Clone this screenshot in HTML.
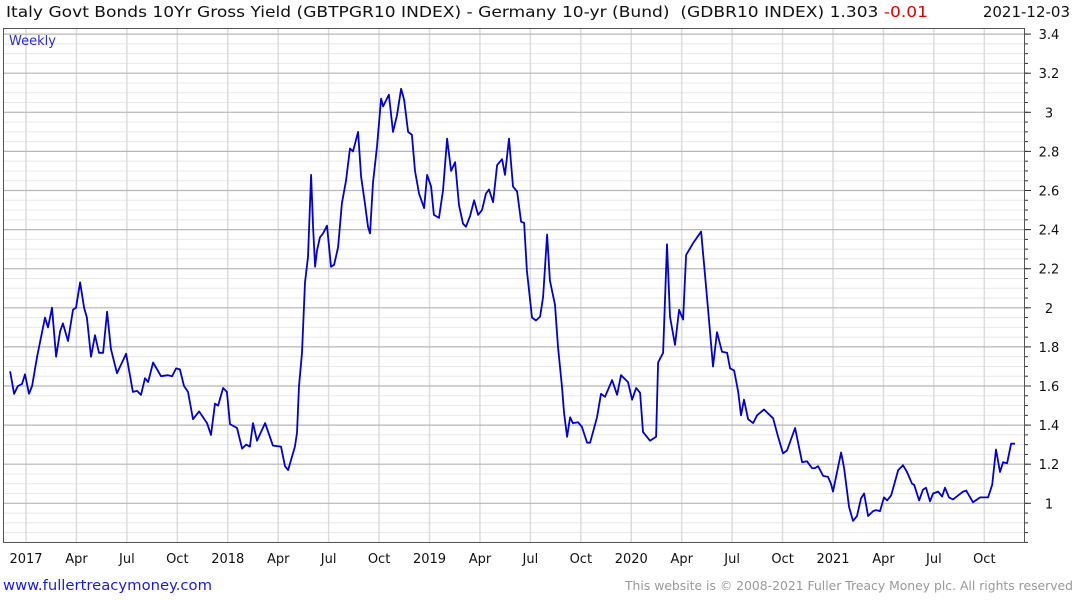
<!DOCTYPE html>
<html><head><meta charset="utf-8">
<style>
body{margin:0;background:#fff;width:1075px;height:600px;overflow:hidden;font-family:"DejaVu Sans","Liberation Sans",sans-serif;}
svg{display:block}
text{font-family:"DejaVu Sans","Liberation Sans",sans-serif;}
</style></head>
<body>
<svg id="chart" width="1075" height="600">
<g id="grid"></g>
<g id="axes"></g>
<path id="series" fill="none" stroke="#0000d8" stroke-width="1.8" stroke-linejoin="round"></path>
<text x="6" y="17" font-size="15" fill="#111" textLength="922" lengthAdjust="spacingAndGlyphs">Italy Govt Bonds 10Yr Gross Yield (GBTPGR10 INDEX) - Germany 10-yr (Bund)&#160; (GDBR10 INDEX) 1.303 <tspan fill="#e00000">-0.01</tspan></text>
<text x="1070" y="17" font-size="15" fill="#111" text-anchor="end">2021-12-03</text>
<text x="9" y="45" font-size="13" fill="#2a2ae0">Weekly</text>
<text x="3" y="590" font-size="14.5" fill="#1a1ae6" textLength="209" lengthAdjust="spacingAndGlyphs">www.fullertreacymoney.com</text>
<text x="1073" y="590" font-size="12.5" fill="#999" text-anchor="end" textLength="448" lengthAdjust="spacingAndGlyphs">This website is © 2008-2021 Fuller Treacy Money plc. All rights reserved</text>
</svg>
<script>
const yearOffset=[-0.079,-0.059,-0.040,-0.020,-0.005,0.015,0.030,0.055,0.094,0.109,0.129,0.149,0.169,0.183,0.208,0.233,0.248,0.268,0.288,0.302,0.322,0.342,0.362,0.382,0.402,0.421,0.451,0.496,0.530,0.550,0.570,0.590,0.605,0.630,0.669,0.704,0.724,0.744,0.763,0.783,0.803,0.828,0.858,0.897,0.917,0.937,0.952,0.977,0.996,1.011,1.046,1.071,1.091,1.110,1.125,1.145,1.185,1.224,1.264,1.284,1.299,1.333,1.343,1.353,1.368,1.383,1.398,1.413,1.423,1.433,1.442,1.457,1.472,1.492,1.512,1.527,1.547,1.566,1.586,1.606,1.621,1.646,1.661,1.680,1.695,1.705,1.720,1.740,1.760,1.770,1.789,1.799,1.819,1.839,1.859,1.874,1.894,1.913,1.928,1.948,1.973,1.988,2.008,2.022,2.047,2.067,2.087,2.107,2.127,2.146,2.166,2.181,2.201,2.221,2.241,2.260,2.280,2.295,2.315,2.335,2.360,2.374,2.394,2.414,2.434,2.454,2.469,2.483,2.508,2.528,2.548,2.563,2.583,2.597,2.622,2.637,2.657,2.667,2.682,2.697,2.711,2.736,2.756,2.781,2.796,2.830,2.850,2.870,2.905,2.930,2.949,2.984,3.004,3.024,3.044,3.058,3.093,3.123,3.133,3.158,3.177,3.192,3.217,3.237,3.257,3.272,3.306,3.346,3.361,3.381,3.405,3.425,3.450,3.475,3.490,3.510,3.530,3.544,3.559,3.579,3.604,3.624,3.658,3.703,3.728,3.752,3.772,3.812,3.847,3.871,3.896,3.911,3.926,3.951,3.975,3.990,4.000,4.040,4.055,4.080,4.099,4.119,4.139,4.154,4.174,4.199,4.213,4.233,4.253,4.268,4.288,4.323,4.347,4.367,4.392,4.402,4.427,4.446,4.461,4.481,4.496,4.521,4.541,4.555,4.575,4.595,4.645,4.660,4.694,4.729,4.769,4.789,4.808,4.828,4.843,4.863,4.883,4.902];
const spread=[1.675,1.56,1.60,1.61,1.66,1.56,1.60,1.75,1.95,1.90,2.00,1.75,1.88,1.92,1.83,1.99,2.00,2.13,2.00,1.95,1.75,1.86,1.77,1.77,1.98,1.79,1.665,1.765,1.57,1.575,1.555,1.64,1.62,1.72,1.65,1.655,1.65,1.69,1.685,1.60,1.57,1.43,1.47,1.41,1.35,1.51,1.50,1.59,1.57,1.405,1.385,1.28,1.30,1.29,1.41,1.32,1.41,1.295,1.29,1.19,1.17,1.29,1.36,1.60,1.77,2.13,2.26,2.68,2.41,2.21,2.29,2.36,2.38,2.42,2.21,2.22,2.31,2.535,2.65,2.815,2.80,2.90,2.67,2.535,2.415,2.38,2.64,2.825,3.07,3.03,3.07,3.09,2.90,2.985,3.12,3.065,2.90,2.885,2.70,2.585,2.51,2.68,2.62,2.475,2.46,2.60,2.865,2.70,2.745,2.525,2.43,2.415,2.47,2.55,2.475,2.50,2.585,2.605,2.54,2.73,2.76,2.68,2.865,2.62,2.595,2.44,2.435,2.19,1.95,1.935,1.955,2.055,2.375,2.14,2.015,1.80,1.595,1.46,1.34,1.44,1.41,1.415,1.39,1.31,1.31,1.44,1.56,1.545,1.63,1.555,1.655,1.62,1.53,1.59,1.565,1.365,1.32,1.34,1.72,1.77,2.325,1.955,1.81,1.99,1.94,2.27,2.33,2.39,2.22,1.99,1.70,1.875,1.775,1.77,1.69,1.68,1.57,1.45,1.53,1.43,1.41,1.45,1.48,1.435,1.34,1.255,1.27,1.385,1.21,1.215,1.18,1.18,1.19,1.14,1.135,1.10,1.06,1.26,1.18,0.98,0.91,0.935,1.025,1.05,0.935,0.96,0.965,0.96,1.03,1.015,1.04,1.17,1.195,1.16,1.10,1.095,1.015,1.07,1.08,1.01,1.05,1.06,1.035,1.08,1.03,1.02,1.06,1.065,1.005,1.03,1.03,1.095,1.275,1.16,1.21,1.205,1.305,1.305];
const yTicks=[1,1.2,1.4,1.6,1.8,2,2.2,2.4,2.6,2.8,3,3.2,3.4];
const xTickLabels=["2017","Apr","Jul","Oct","2018","Apr","Jul","Oct","2019","Apr","Jul","Oct","2020","Apr","Jul","Oct","2021","Apr","Jul","Oct"];

const L=3,R=1025,T=28,B=543;
const xScale=t=>26+t*201.75;
const yScale=v=>503.3-(v-1)*195.5;
const NS='http://www.w3.org/2000/svg';
function mk(tag,attrs,parent){const e=document.createElementNS(NS,tag);for(const k in attrs)e.setAttribute(k,attrs[k]);parent.appendChild(e);return e;}
const grid=document.getElementById('grid'),axes=document.getElementById('axes');
for(let v=0.8;v<=3.45;v+=0.05){const y=yScale(v);if(y<T||y>B)continue;
 const l=mk('line',{x1:L,x2:R,y1:y,y2:y,stroke:'#e8e8e8','stroke-width':1},grid);
 
 
 const tk=mk('line',{x1:R,x2:R+3,y1:y,y2:y,stroke:'#333','stroke-width':1},axes);
 
 }
xTickLabels.forEach((s,i)=>{const x=xScale(i*0.25);
 const l=mk('line',{x1:x,x2:x,y1:T,y2:B,stroke:'#dcdcdc','stroke-width':1.5},grid);
 
 
 const t=mk('text',{x:x,y:563,'font-size':13,fill:'#111','text-anchor':'middle'},axes);t.textContent=s;
 
 });
yTicks.forEach(v=>{const y=yScale(v);
 const l=mk('line',{x1:L,x2:R,y1:y,y2:y,stroke:'#b8b8b8','stroke-width':1.2},grid);
 
 
 const tk=mk('line',{x1:R,x2:R+6,y1:y,y2:y,stroke:'#333','stroke-width':1},axes);
 
 
 const t=mk('text',{x:R+24,y:y+5,'font-size':13,fill:'#111','text-anchor':'middle'},axes);t.textContent=String(v);
 
 });
const fr=mk('rect',{x:L+0.5,y:T+0.5,width:R-L-1,height:B-T-1,fill:'none',stroke:'#555','stroke-width':1},axes);


let d='';yearOffset.forEach((t,i)=>{d+=(i?'L':'M')+xScale(t).toFixed(1)+','+yScale(spread[i]).toFixed(1);});
document.getElementById('series').setAttribute('d',d);
</script>
</body></html>
